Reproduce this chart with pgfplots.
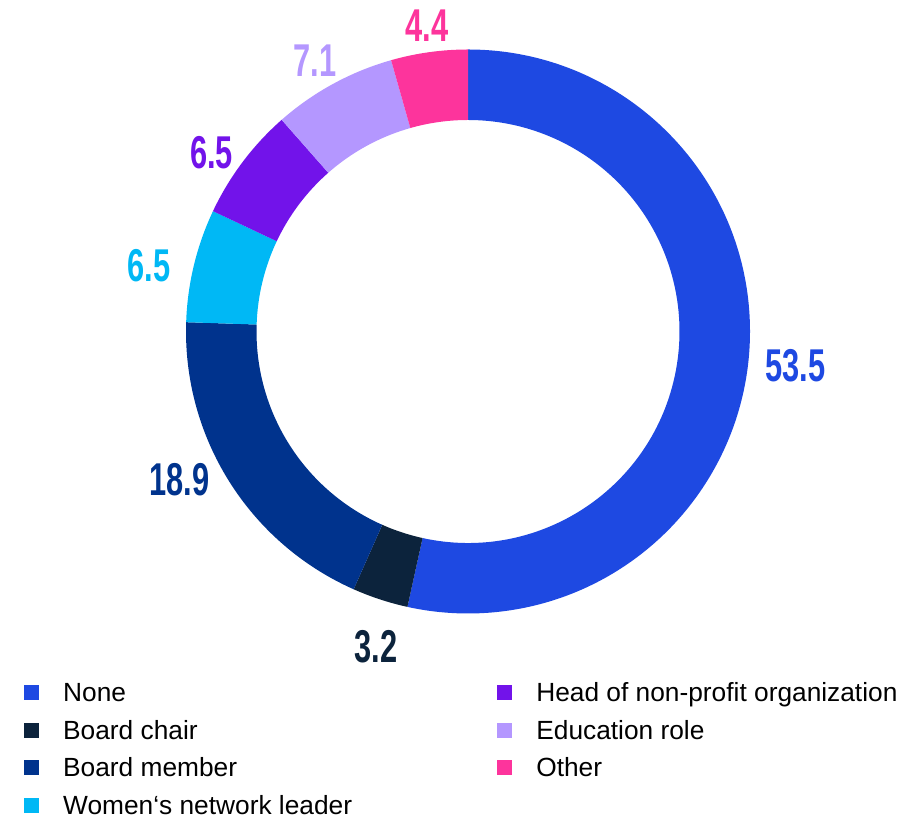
\documentclass[border=0pt]{standalone}
\usepackage{fontspec}
\setmainfont{Liberation Sans}
\usepackage{graphicx}
\usepackage{pgfplots}
\usepackage{pgfplotstable}
\pgfplotsset{compat=1.18}
\definecolor{pie0}{HTML}{1E49E2}
\definecolor{pie1}{HTML}{0C233C}
\definecolor{pie2}{HTML}{00338D}
\definecolor{pie3}{HTML}{00B8F5}
\definecolor{pie4}{HTML}{7213EA}
\definecolor{pie5}{HTML}{B497FF}
\definecolor{pie6}{HTML}{FD349C}
% share (%), label position (x, y in picture units)
\pgfplotstableread{
idx value lx ly
0 53.5 795.5 451.5
1 3.2 376 170.5
2 18.9 179.5 337.5
3 6.5 149 551.5
4 6.5 211.5 664.5
5 7.1 315 756.5
6 4.4 427 791
}\piedata
\newcommand\lab[2]{\textcolor{#1}{\scalebox{0.67}[1]{\fontsize{46bp}{46bp}\selectfont\bfseries #2}}}
\pgfplotsset{sqlegend/.style={legend image code/.code={%
  \fill[##1] (0bp,-7bp) rectangle (14bp,7bp);
  \path[draw=none,fill=none] (0bp,0bp) -- (39bp,0bp);}}}
\begin{document}
\begin{tikzpicture}
\def\cum{0}
\pgfplotsforeachungrouped \i in {0,...,6}{%
  \pgfplotstablegetelem{\i}{value}\of\piedata
  \let\v\pgfplotsretval
  \pgfmathsetmacro\sa{90-\cum/100.1*360}%
  \pgfmathsetmacro\cum{\cum+\v}%
  \pgfmathsetmacro\ea{90-\cum/100.1*360}%
  \expandafter\xdef\csname sa\i\endcsname{\sa}%
  \expandafter\xdef\csname ea\i\endcsname{\ea}%
  \expandafter\xdef\csname val\i\endcsname{\v}%
  \pgfplotstablegetelem{\i}{lx}\of\piedata
  \expandafter\xdef\csname lx\i\endcsname{\pgfplotsretval}%
  \pgfplotstablegetelem{\i}{ly}\of\piedata
  \expandafter\xdef\csname ly\i\endcsname{\pgfplotsretval}%
}
\begin{axis}[
  width=902bp, height=817bp, scale only axis,
  xmin=0, xmax=902, ymin=0, ymax=817,
  hide axis, clip=false,
  legend columns=2,
  legend style={at={(axis cs:24,134.6)}, anchor=north west,
    draw=none, fill=none, inner sep=0pt, outer sep=0pt,
    column sep=0pt, row sep=16.9bp,
    nodes={inner sep=0pt, outer sep=0pt, text height=19.6bp, text depth=1bp,
      anchor=west, font=\fontsize{26.3bp}{30bp}\selectfont},
    /tikz/every even column/.append style={column sep=145bp}},
]
\path (axis cs:0,0) rectangle (axis cs:902,817);
\pgfplotsinvokeforeach{0,...,6}{%
  \edef\temp{\noexpand\fill[pie#1] (axis cs:468,485.5) ++(\csname sa#1\endcsname:282bp)
    arc[start angle=\csname sa#1\endcsname, end angle=\csname ea#1\endcsname, radius=282bp]
    -- ++(\csname ea#1\endcsname:-70.5bp)
    arc[start angle=\csname ea#1\endcsname, end angle=\csname sa#1\endcsname, radius=211.5bp]
    -- cycle;
    \noexpand\node[inner sep=0pt] at (axis cs:\csname lx#1\endcsname,\csname ly#1\endcsname)
      {\noexpand\lab{pie#1}{\csname val#1\endcsname}};}%
  \temp
}
\addlegendimage{sqlegend, pie0}\addlegendentry{None}
\addlegendimage{sqlegend, pie4}\addlegendentry{Head of non-profit organization}
\addlegendimage{sqlegend, pie1}\addlegendentry{Board chair}
\addlegendimage{sqlegend, pie5}\addlegendentry{Education role}
\addlegendimage{sqlegend, pie2}\addlegendentry{Board member}
\addlegendimage{sqlegend, pie6}\addlegendentry{Other}
\addlegendimage{sqlegend, pie3}\addlegendentry{Women‘s network leader}
\end{axis}
\end{tikzpicture}
\end{document}
